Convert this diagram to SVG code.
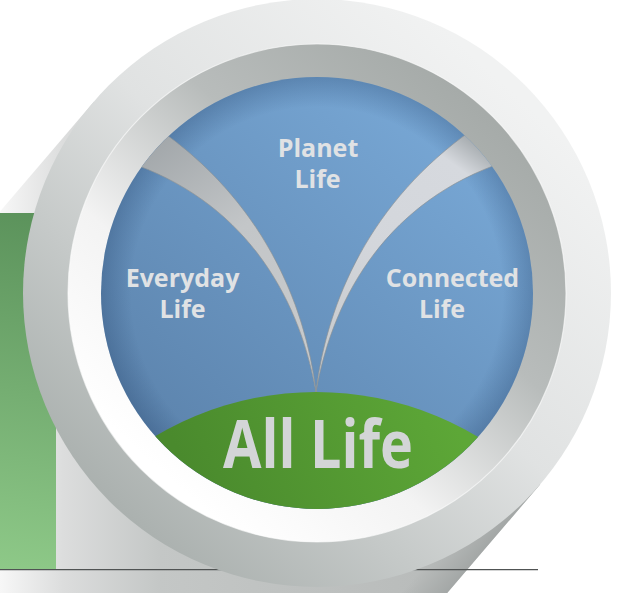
<svg xmlns="http://www.w3.org/2000/svg" width="628" height="593" viewBox="0 0 628 593">
<style>
.lbl{font-family:"Open Sans","Noto Sans","DejaVu Sans",sans-serif;font-weight:700;font-size:25px;fill:#e0e2e4;text-anchor:middle}
.big{font-family:"Open Sans","Noto Sans","DejaVu Sans",sans-serif;font-weight:700;font-size:66px;fill:#d3d5d7;text-anchor:middle}
.blade{stroke:#8e9396;stroke-width:0.7}
</style>
<defs>
<linearGradient id="sideGrad" gradientUnits="userSpaceOnUse" x1="0" y1="0" x2="420" y2="0">
<stop offset="0" stop-color="#f7f7f7"/>
<stop offset="0.15" stop-color="#dcdddd"/>
<stop offset="0.38" stop-color="#c4c7c6"/>
<stop offset="1" stop-color="#b9bcbb"/>
</linearGradient>
<linearGradient id="edgeShade" gradientUnits="userSpaceOnUse" x1="513.6" y1="461.5" x2="540.2" y2="484.3">
<stop offset="0" stop-color="#9ea2a1" stop-opacity="0"/>
<stop offset="1" stop-color="#9ea2a1" stop-opacity="0.8"/>
</linearGradient>
<linearGradient id="greenBar" gradientUnits="userSpaceOnUse" x1="56" y1="213" x2="0" y2="570">
<stop offset="0" stop-color="#5b925b"/>
<stop offset="1" stop-color="#8ec988"/>
</linearGradient>
<linearGradient id="outerRing" gradientUnits="userSpaceOnUse" x1="500" y1="80" x2="110" y2="500">
<stop offset="0" stop-color="#f1f2f2"/>
<stop offset="0.45" stop-color="#e0e2e2"/>
<stop offset="1" stop-color="#abb1af"/>
</linearGradient>
<linearGradient id="bezel" gradientUnits="userSpaceOnUse" x1="480" y1="110" x2="160" y2="470">
<stop offset="0" stop-color="#a6aba9"/>
<stop offset="0.35" stop-color="#b8bcbb"/>
<stop offset="0.7" stop-color="#f3f3f3"/>
<stop offset="1" stop-color="#ffffff"/>
</linearGradient>
<linearGradient id="blue" gradientUnits="userSpaceOnUse" x1="470" y1="110" x2="160" y2="470">
<stop offset="0" stop-color="#79a9d7"/>
<stop offset="1" stop-color="#5b82ab"/>
</linearGradient>
<radialGradient id="blueShadow" gradientUnits="userSpaceOnUse" cx="317" cy="293" r="216">
<stop offset="0.86" stop-color="#1e3c64" stop-opacity="0"/>
<stop offset="1" stop-color="#1e3c64" stop-opacity="0.28"/>
</radialGradient>
<linearGradient id="hill" gradientUnits="userSpaceOnUse" x1="440" y1="390" x2="200" y2="500">
<stop offset="0" stop-color="#5da737"/>
<stop offset="1" stop-color="#4a8a2d"/>
</linearGradient>
<linearGradient id="bladeL" gradientUnits="userSpaceOnUse" x1="150" y1="145" x2="316" y2="392">
<stop offset="0" stop-color="#a2a7aa"/>
<stop offset="0.4" stop-color="#c3c6c8"/>
<stop offset="1" stop-color="#c9cbcd"/>
</linearGradient>
<linearGradient id="bladeR" gradientUnits="userSpaceOnUse" x1="495" y1="150" x2="316" y2="392">
<stop offset="0" stop-color="#9ea4a7"/>
<stop offset="0.12" stop-color="#d6d9de"/>
<stop offset="0.5" stop-color="#d3d6db"/>
<stop offset="1" stop-color="#c4c7c9"/>
</linearGradient>
<clipPath id="blueClip"><circle cx="317" cy="293" r="216"/></clipPath>
</defs>

<g id="backdrop">
<polygon points="93.8,101.7 -361,634 85,1016 540.2,484.3" fill="url(#sideGrad)"/>
<polygon points="513.6,461.5 540.2,484.3 85.2,1016.3 58.6,993.5" fill="url(#edgeShade)"/>
<rect x="0" y="213" width="56" height="356" fill="url(#greenBar)"/>
<line x1="0" y1="569.6" x2="538" y2="569.6" stroke="#505353" stroke-width="1.4"/>
</g>

<g id="disk">
<circle cx="317" cy="293" r="294" fill="url(#outerRing)"/>
<circle cx="317" cy="293" r="249" fill="url(#bezel)" stroke="#ffffff" stroke-opacity="0.6" stroke-width="1.2"/>
<circle cx="317" cy="293" r="216" fill="url(#blue)"/>
<circle cx="317" cy="293" r="216" fill="url(#blueShadow)"/>
</g>

<g id="connectors" clip-path="url(#blueClip)">
<path class="blade" fill="url(#bladeL)" d="M316,392 C305,300 260,200 160,130 L125,150 L128,162 C240,200 298,290 316,392 Z"/>
<path class="blade" fill="url(#bladeR)" d="M316,392 C327,300 372,200 472,130 L507,150 L504,162 C392,200 334,290 316,392 Z"/>
</g>

<g id="node-all-life" clip-path="url(#blueClip)">
<circle cx="316" cy="707" r="315" fill="url(#hill)"/>
<text class="big" x="318" y="468" textLength="190" lengthAdjust="spacingAndGlyphs">All Life</text>
</g>

<g id="node-planet-life">
<text class="lbl" x="318" y="157">Planet</text>
<text class="lbl" x="317.5" y="188">Life</text>
</g>

<g id="node-everyday-life">
<text class="lbl" x="182.5" y="287">Everyday</text>
<text class="lbl" x="182.5" y="318">Life</text>
</g>

<g id="node-connected-life">
<text class="lbl" x="452.5" y="287">Connected</text>
<text class="lbl" x="442" y="318">Life</text>
</g>
</svg>
